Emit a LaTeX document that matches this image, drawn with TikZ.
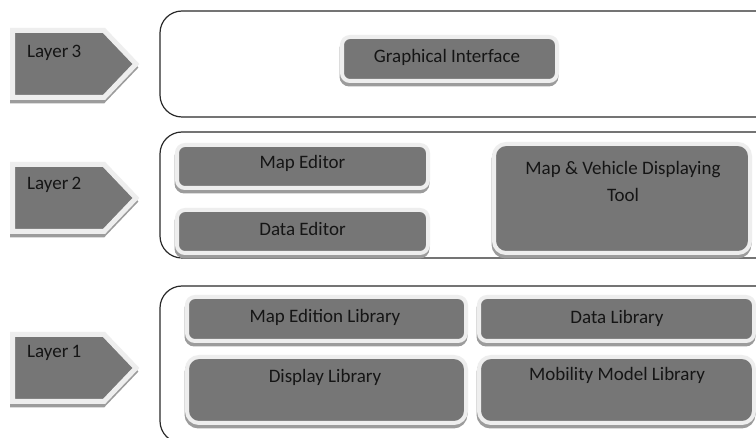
\documentclass[tikz,border=0pt]{standalone}
\usepackage{fontspec}
\setmainfont{Carlito}
\usetikzlibrary{shadows}
\definecolor{boxgray}{HTML}{767676}
\definecolor{boxedge}{HTML}{EEEEEE}
\definecolor{shadowgray}{HTML}{9C9C9C}
\definecolor{textc}{HTML}{151515}
\definecolor{framec}{HTML}{2A2A2A}
\tikzset{
  frame/.style={draw=framec, line width=1.2pt, rounded corners=22pt},
  gbox/.style={fill=boxgray, draw=boxedge, line width=4pt, rounded corners=8pt,
    inner sep=0pt, text=textc, font=\fontsize{19}{27}\selectfont, align=center,
    general shadow={shadow xshift=-0.5pt, shadow yshift=-3.5pt, fill=shadowgray, draw=shadowgray, line width=4pt}},
  tallbox/.style={gbox, rounded corners=12pt},
  gtext/.style={text=textc, font=\fontsize{19}{27}\selectfont, align=center, inner sep=0pt},
  tagshape/.style={fill=boxgray, draw=boxedge, line width=5pt, line join=miter},
  tagshadow/.style={fill=shadowgray, draw=shadowgray, line width=5pt, line join=miter}
}
\begin{document}
\begin{tikzpicture}[x=1pt,y=-1pt]
\useasboundingbox (0,0) rectangle (756,438);
\fill[white] (0,0) rectangle (756,438);

% layer containers
\draw[frame] (160,11) rectangle (778,117);
\draw[frame] (160,132) rectangle (778,258);
\draw[frame] (160,286) rectangle (778,443);

% layer tags
\foreach \n/\Y/\ty in {3/28/25, 2/162/23, 1/332/21}{
  \path[tagshadow] (12.5,\Y+6) -- (103,\Y+6) -- (135,\Y+39.5) -- (103,\Y+73) -- (12.5,\Y+73) -- cycle;
  \path[tagshape] (12.5,\Y+2.5) -- (104,\Y+2.5) -- (136,\Y+36) -- (104,\Y+69.5) -- (12.5,\Y+69.5) -- cycle;
  \node[gtext, anchor=west] (tag\n) at (27,\Y+\ty) {Layer\,\n};
}

% layer 3
\node[gbox, minimum width=215pt, minimum height=44pt] (gi) at (449.5,59) {};
\node[gtext] (giT) at (447,57.5) {Graphical Interface};

% layer 2
\node[gbox, minimum width=251pt, minimum height=43pt] (me) at (302.5,166.5) {};
\node[gtext] (meT) at (302.5,163.5) {Map Editor};
\node[gbox, minimum width=251pt, minimum height=43pt] (de) at (302.5,231.5) {};
\node[gtext] (deT) at (302.5,228.5) {Data Editor};
\node[tallbox, minimum width=256pt, minimum height=109pt] (mv) at (622,198.5) {};
\node[gtext] (mvT) at (623,181) {Map \& Vehicle Displaying\\Tool};

% layer 1
\node[gbox, minimum width=279pt, minimum height=44pt] (mel) at (326.5,319) {};
\node[gtext] (melT) at (325,317) {Map Edition Library};
\node[tallbox, minimum width=279pt, minimum height=66pt] (dl) at (326.5,390) {};
\node[gtext] (dlT) at (325,377) {Display Library};
\node[gbox, minimum width=275pt, minimum height=44pt] (dal) at (616.5,319) {};
\node[gtext] (dalT) at (617,318) {Data Library};
\node[tallbox, minimum width=275pt, minimum height=66pt] (mml) at (616.5,390) {};
\node[gtext] (mmlT) at (617,375) {Mobility Model Library};
\end{tikzpicture}
\end{document}
